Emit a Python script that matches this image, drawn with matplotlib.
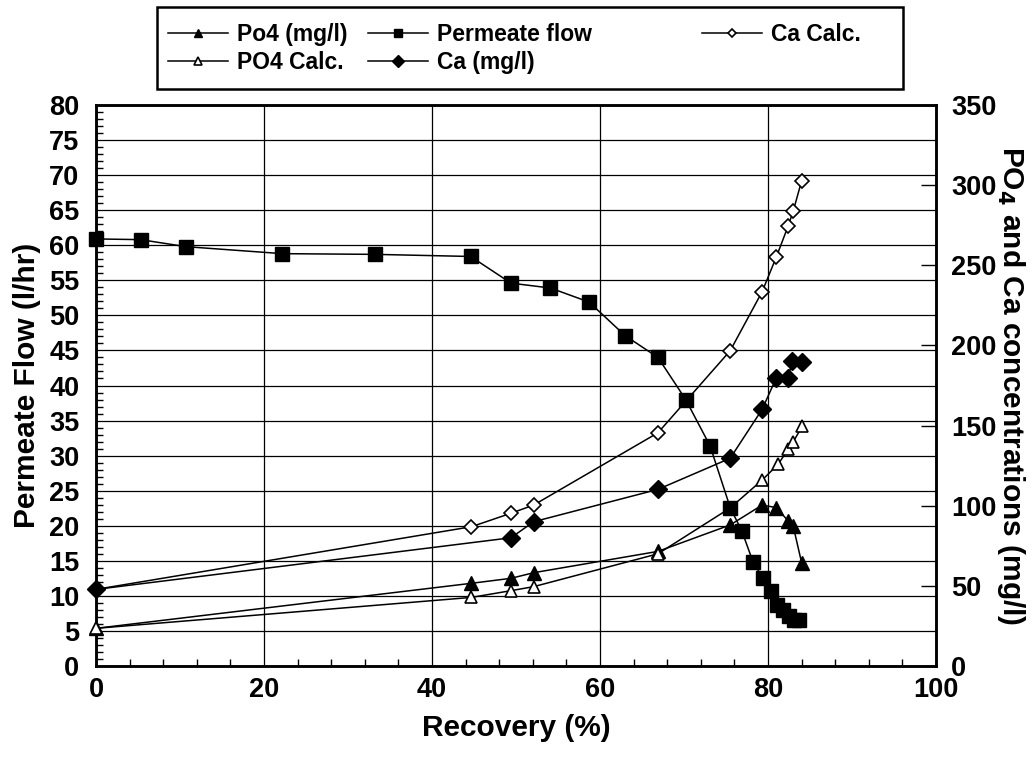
import matplotlib
matplotlib.use("Agg")
import matplotlib.pyplot as plt
from matplotlib.ticker import MultipleLocator
from matplotlib.patches import Rectangle

plt.rcParams['font.family'] = ['Liberation Sans', 'DejaVu Sans']
plt.rcParams['font.weight'] = 'bold'

# ---- data ----
flow_recovery = [0, 5.3, 10.7, 22.2, 33.2, 44.6, 49.4, 54.1, 58.7, 63.0, 66.9, 70.2,
                 73.1, 75.5, 76.9, 78.2, 79.4, 80.3, 81.1, 81.8, 82.5, 83.1, 83.7]
permeate_flow = [60.9, 60.8, 59.8, 58.8, 58.7, 58.4, 54.6, 53.9, 51.9, 47.1, 44.0, 38.0,
                 31.4, 22.6, 19.2, 14.9, 12.5, 10.7, 8.7, 8.0, 7.1, 6.6, 6.5]

po4_recovery = [0, 44.7, 49.4, 52.1, 66.9, 75.5, 79.3, 81.0, 82.4, 83.0, 84.0]
po4_meas = [23.5, 51.6, 54.7, 58.2, 71.5, 88.0, 100.4, 98.8, 90.5, 87.3, 64.5]

po4c_recovery = [0, 44.7, 49.4, 52.1, 66.9, 75.5, 79.3, 81.2, 82.4, 83.0, 84.1]
po4_calc = [23.5, 42.8, 47.0, 49.5, 70.0, 98.6, 116.0, 125.8, 135.2, 139.9, 149.7]

cac_recovery = [0, 44.7, 49.4, 52.1, 66.9, 75.5, 79.3, 81.0, 82.4, 83.0, 84.0]
ca_calc = [47.8, 86.9, 95.3, 100.4, 145.5, 196.7, 233.5, 255.3, 274.5, 283.8, 302.6]

ca_recovery = [0, 49.4, 52.1, 66.9, 75.5, 79.3, 81.0, 82.4, 82.9, 84.0]
ca_meas = [47.8, 80.0, 90.0, 110.2, 129.6, 160.1, 179.9, 179.9, 190.5, 189.8]

left_ticks = list(range(0, 81, 5))
right_ticks = list(range(0, 351, 50))
x_ticks = list(range(0, 101, 20))

# ---- figure ----
W, H = 1034, 759
fig = plt.figure(figsize=(W/100, H/100), dpi=100)
ax = fig.add_axes([96/W, 1-666/H, (936-96)/W, (666-105)/H])
ax2 = ax.twinx()

lw = 1.1
common = dict(color='black', lw=lw, clip_on=False, zorder=3)
h_po4, = ax2.plot(po4_recovery, po4_meas, marker='^', ms=10, mfc='black',
                  mec='black', label='Po4 (mg/l)', **common)
h_po4c, = ax2.plot(po4c_recovery, po4_calc, marker='^', ms=9, mfc='white',
                   mec='black', mew=1.2, label='PO4 Calc.', **common)
h_cac, = ax2.plot(cac_recovery, ca_calc, marker='D', ms=7, mfc='white',
                  mec='black', mew=1.2, label='Ca Calc.', **common)
h_ca, = ax2.plot(ca_recovery, ca_meas, marker='D', ms=9.5, mfc='black',
                 mec='black', label='Ca (mg/l)', **common)

ax3 = ax.twinx()
ax3.set_ylim(0, 80)
ax3.axis('off')
h_flow, = ax3.plot(flow_recovery, permeate_flow, marker='s', ms=9.5, mfc='black',
                   mec='black', label='Permeate flow', color='black', lw=lw,
                   clip_on=False, zorder=4)

ax.set_xlim(0, 100)
ax.set_ylim(0, 80)
ax2.set_ylim(0, 350)
ax3.set_xlim(0, 100)

ax.set_xticks(x_ticks)
ax.set_yticks(left_ticks)
ax2.set_yticks(right_ticks)
ax.xaxis.set_minor_locator(MultipleLocator(4))
ax.yaxis.set_minor_locator(MultipleLocator(1))

ax.grid(True, which='major', color='black', lw=0.9)
ax.set_axisbelow(True)

fs_tick = 19.5
ax.tick_params(axis='x', which='major', direction='in', length=0, labelsize=fs_tick, pad=8)
ax.tick_params(axis='x', which='minor', direction='in', length=5, width=1)
ax.tick_params(axis='y', which='major', direction='in', length=0, labelsize=fs_tick, pad=12)
ax.tick_params(axis='y', which='minor', direction='in', length=5, width=1)
ax2.tick_params(axis='y', which='major', direction='in', length=11, width=1,
                labelsize=fs_tick, pad=11)

for a in (ax, ax2):
    for s in a.spines.values():
        s.set_linewidth(1.8)

fs_lab = 21.5
ax.set_xlabel('Recovery (%)', fontsize=fs_lab, fontweight='bold', labelpad=8)
ax.set_ylabel('Permeate Flow (l/hr)', fontsize=fs_lab, fontweight='bold', labelpad=6)
ax2.set_ylabel('PO$_\\mathbf{4}$ and Ca concentrations (mg/l)', fontsize=fs_lab,
               fontweight='bold', rotation=270, labelpad=22)

# ---- legend: framed box with three columns ----
frame = Rectangle((157/W, 1-89/H), (903-157)/W, (89-7)/H, transform=fig.transFigure,
                  fill=True, facecolor='white', edgecolor='black', lw=1.8, zorder=5)
fig.patches.append(frame)
columns = [([h_po4, h_po4c], 150), ([h_flow, h_ca], 350), ([h_cac], 684)]
for hs, x0 in columns:
    lg = fig.legend(handles=hs, loc='upper left', bbox_to_anchor=(x0/W, 1-5/H),
                    ncol=1, fontsize=16.5, frameon=False, handlelength=2.6,
                    markerscale=0.6, handletextpad=0.4, borderpad=0.3,
                    labelspacing=0.2)
    lg.set_zorder(6)
    for t in lg.get_texts():
        t.set_fontweight('bold')

fig.savefig('out.png', dpi=100)
